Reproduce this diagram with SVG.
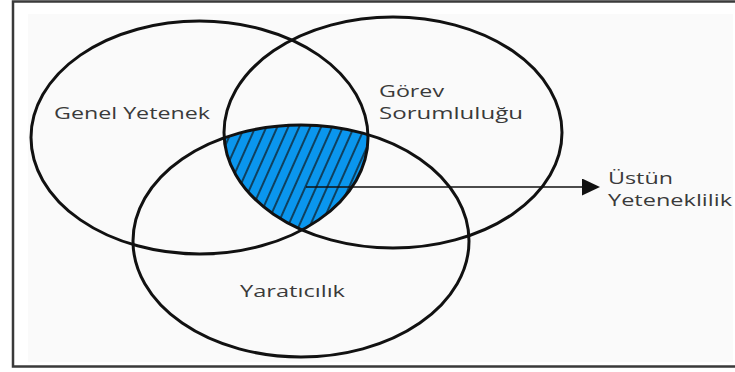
<svg xmlns="http://www.w3.org/2000/svg" width="735" height="372" viewBox="0 0 735 372">
  <style>
    .ring { fill: none; stroke: #111; stroke-width: 3; }
    .lbl { font-family: "Open Sans", "Noto Sans", sans-serif; font-size: 15.5px; fill: #3a3a3a; }
    .conn { stroke: #111; stroke-width: 1.6; fill: none; }
  </style>
  <defs>
    <pattern id="hatch" patternUnits="userSpaceOnUse" width="10" height="10" patternTransform="rotate(24)">
      <line x1="5" y1="-1" x2="5" y2="11" stroke="#111" stroke-width="1.3"/>
    </pattern>
    <clipPath id="clipL"><ellipse cx="199.5" cy="137.5" rx="168.5" ry="116.5"/></clipPath>
    <clipPath id="clipR"><ellipse cx="393" cy="132.5" rx="169" ry="115.5"/></clipPath>
    <marker id="arrow" markerUnits="userSpaceOnUse" markerWidth="20" markerHeight="18" refX="0" refY="8.5" orient="auto">
      <path d="M0,0 L18,8.5 L0,17 z" fill="#111"/>
    </marker>
  </defs>

  <rect x="0" y="0" width="735" height="372" fill="#ffffff"/>
  <rect x="13" y="1.5" width="740" height="365" fill="#ffffff" stroke="#3a3a3a" stroke-width="2.5"/>
  <rect x="28" y="14" width="705" height="348" fill="#fafafa"/>

  <g id="intersection">
    <g clip-path="url(#clipL)">
      <g clip-path="url(#clipR)">
        <ellipse cx="301" cy="241" rx="168" ry="116" fill="#0a96ee"/>
        <ellipse cx="301" cy="241" rx="168" ry="116" fill="url(#hatch)"/>
      </g>
    </g>
  </g>

  <g id="genel-yetenek">
    <ellipse class="ring" cx="199.5" cy="137.5" rx="168.5" ry="116.5"/>
    <text class="lbl" x="54" y="119" textLength="156" lengthAdjust="spacingAndGlyphs">Genel Yetenek</text>
  </g>

  <g id="gorev-sorumlulugu">
    <ellipse class="ring" cx="393" cy="132.5" rx="169" ry="115.5"/>
    <text class="lbl" x="379" y="96.5" textLength="65" lengthAdjust="spacingAndGlyphs">Görev</text>
    <text class="lbl" x="379" y="118.5" textLength="144" lengthAdjust="spacingAndGlyphs">Sorumluluğu</text>
  </g>

  <g id="yaraticilik">
    <ellipse class="ring" cx="301" cy="241" rx="168" ry="116"/>
    <text class="lbl" x="240" y="297" textLength="105" lengthAdjust="spacingAndGlyphs">Yaratıcılık</text>
  </g>

  <g id="ustun-yeteneklilik">
    <text class="lbl" x="608" y="184" textLength="65" lengthAdjust="spacingAndGlyphs">Üstün</text>
    <text class="lbl" x="608" y="206" textLength="124" lengthAdjust="spacingAndGlyphs">Yeteneklilik</text>
  </g>

  <g id="connectors">
    <line class="conn" x1="306" y1="187" x2="582" y2="187" marker-end="url(#arrow)"/>
  </g>
</svg>
